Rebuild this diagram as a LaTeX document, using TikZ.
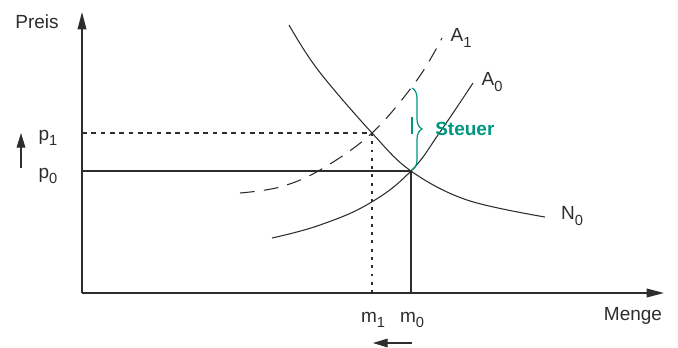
\documentclass[tikz,border=0pt]{standalone}
\usepackage{fontspec}
\setmainfont{Liberation Sans}
\usetikzlibrary{arrows.meta,decorations.pathreplacing}
\definecolor{ink}{RGB}{45,45,45}
\definecolor{tax}{RGB}{0,150,128}
\newcommand{\lsub}[1]{\raisebox{-4pt}{\fontsize{11}{11}\selectfont #1}}
\tikzset{
  lbl/.style={text=ink,inner sep=0pt,font=\fontsize{14.25}{15}\selectfont},
  axis/.style={ink,line width=1.1pt,-{Triangle[length=13pt,width=6.5pt]}},
  small arrow/.style={ink,line width=0.9pt,-{Triangle[length=11pt,width=6.5pt]}},
  curve/.style={ink,line width=0.8pt},
  guide/.style={ink,line width=1pt},
}
\begin{document}
\begin{tikzpicture}[x=0.75pt,y=-0.75pt]
\useasboundingbox (0,0) rectangle (678,347);
% key points
\coordinate (O) at (82,293);
\coordinate (E0) at (411,171);
\coordinate (E1) at (372,133);
\coordinate (P0) at (82,171);
\coordinate (P1) at (82,133);
\coordinate (M0) at (411,293);
\coordinate (M1) at (372,293);
\coordinate (ytop) at (82,12);
\coordinate (xend) at (664,293);
% guide lines
\draw[guide] (P0) -- (E0) -- (M0);
\draw[ink,line width=0.9pt,dash pattern=on 3.5pt off 3.5pt] (P1) -- (E1);
\draw[ink,line width=1.1pt,dash pattern=on 2.2pt off 4pt] (E1) -- (M1);
% curves
\draw[curve] plot[smooth,tension=0.6] coordinates {(289,25) (318,70) (372,133) (411,171) (467,200) (545,217)};
\draw[curve] plot[smooth,tension=0.7] coordinates {(272,238) (320,225) (370,203) (411,171) (440,132) (473,83)};
\draw[curve,dash pattern=on 11pt off 7pt] plot[smooth,tension=0.6] coordinates {(240,193) (280,187) (320,170) (372,133) (417,80) (442,38)};
% axes
\draw[axis] (O) -- (ytop);
\draw[axis] (O) -- (xend);
% tax brace
\draw[tax,line width=0.9pt,decorate,decoration={brace,amplitude=7.5pt,aspect=0.5}] (412,88) -- (412,170);
\draw[tax,line width=0.9pt] (412,117) -- (412,134);
\node[lbl,font=\fontsize{14.25}{15}\selectfont\bfseries,text=tax,anchor=west] (steuer) at (435,129) {Steuer};
% labels
\node[lbl] (preis) at (37,22) {Preis};
\node[lbl] (menge) at (633,316) {Menge};
\node[lbl] (p1) at (48,138) {p\lsub{1}};
\node[lbl] (p0) at (48,176) {p\lsub{0}};
\node[lbl] (m1) at (373,320) {m\lsub{1}};
\node[lbl] (m0) at (412,320) {m\lsub{0}};
\node[lbl] (n0) at (572,216) {N\lsub{0}};
\node[lbl] (a1) at (461,38) {A\lsub{1}};
\node[lbl] (a0) at (492,82) {A\lsub{0}};
% movement arrows
\coordinate (ua1) at (21,168);
\coordinate (ua2) at (21,133);
\draw[small arrow] (ua1) -- (ua2);
\coordinate (la1) at (412,343);
\coordinate (la2) at (373,343);
\draw[small arrow] (la1) -- (la2);
\end{tikzpicture}
\end{document}
